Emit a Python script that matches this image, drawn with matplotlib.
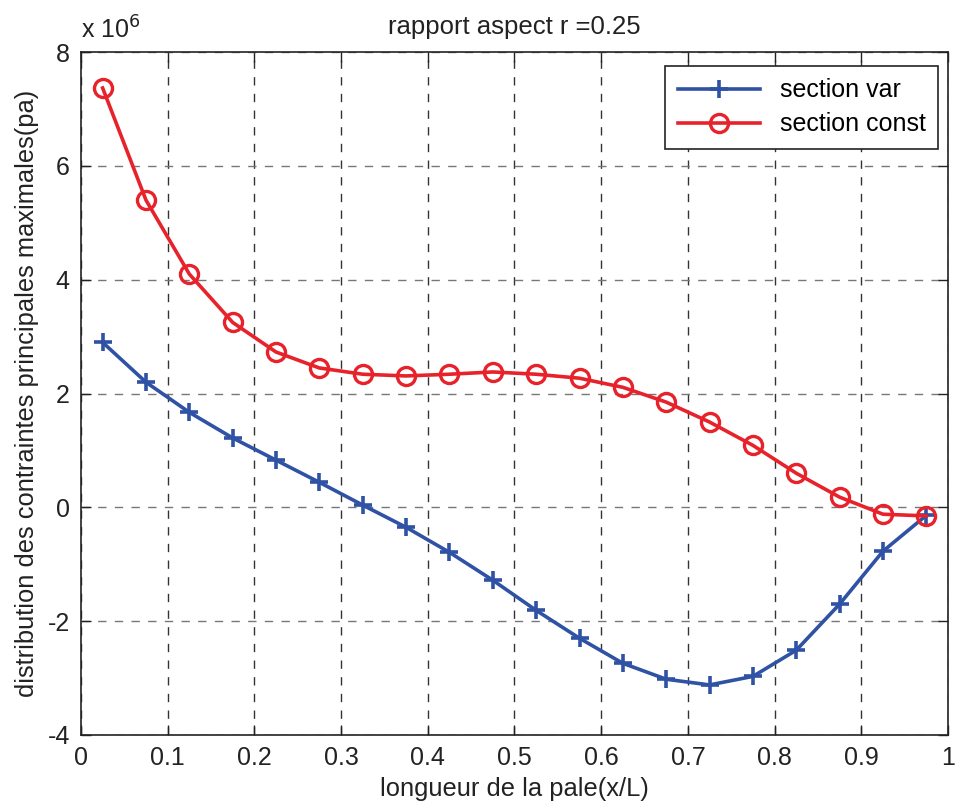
import numpy as np
import matplotlib
matplotlib.use("Agg")
import matplotlib.pyplot as plt

plt.rcParams["font.family"] = ["Liberation Sans", "DejaVu Sans"]

# positions along the blade (x/L)
x = [0.025, 0.075, 0.125, 0.175, 0.225, 0.275, 0.325, 0.375, 0.425, 0.475,
     0.525, 0.575, 0.625, 0.675, 0.725, 0.775, 0.825, 0.875, 0.925, 0.975]

# max principal stress, in units of 1e6 Pa
section_var = [2.90, 2.20, 1.67, 1.22, 0.83, 0.44, 0.04, -0.35, -0.79, -1.28,
               -1.81, -2.30, -2.74, -3.02, -3.12, -2.97, -2.51, -1.70, -0.77, -0.14]
section_const = [7.37, 5.40, 4.10, 3.25, 2.73, 2.45, 2.34, 2.31, 2.34, 2.38,
                 2.34, 2.27, 2.11, 1.85, 1.50, 1.09, 0.60, 0.18, -0.12, -0.15]

xticks = [0, 0.1, 0.2, 0.3, 0.4, 0.5, 0.6, 0.7, 0.8, 0.9, 1]
yticks = [-4, -2, 0, 2, 4, 6, 8]

fig = plt.figure(figsize=(9.57, 8.1), dpi=100)
ax = fig.add_axes([0.0846, 0.0926, 0.906, 0.843])

ax.plot(x, section_var, color="#2f52a4", lw=2.6, marker="+", ms=13, mew=2.6,
        label="section var", zorder=3)
ax.plot(x, section_const, color="#e8222b", lw=2.6, marker="o", ms=13, mew=2.4,
        mfc="none", label="section const", zorder=3)

ax.set_xlim(0, 1)
ax.set_ylim(-4, 8)
ax.set_xticks(xticks)
ax.set_xticklabels([f"{t:g}" for t in xticks])
ax.set_yticks(yticks)
ax.set_yticklabels([f"{t:g}" for t in yticks])
ax.tick_params(direction="in", length=7, width=1, top=True, right=True,
               labelsize=18, colors="#222222", pad=8)

# MATLAB-like dashed grid
ax.xaxis.grid(True, linestyle=(0, (6, 6)), color="#333333", lw=1.0)
ax.yaxis.grid(True, linestyle=(0, (6, 6)), color="#777777", lw=1.0)
ax.set_axisbelow(True)
for s in ax.spines.values():
    s.set_linewidth(1.2)
    s.set_color("#222222")

ax.set_xlabel("longueur de la pale(x/L)", fontsize=18.4, color="#222222", labelpad=5)
ax.set_ylabel("distribution des contraintes principales maximales(pa)", fontsize=18.4,
              color="#222222", labelpad=6)
ax.set_title("rapport aspect r =0.25", fontsize=18.5, color="#222222", pad=13)
ax.text(0, 1.012, "x 10$^{6}$", transform=ax.transAxes, fontsize=18,
        color="#222222", ha="left", va="bottom")

leg = ax.legend(loc="upper right", bbox_to_anchor=(0.989, 0.98), borderaxespad=0,
                fontsize=18, fancybox=False, edgecolor="#222222", framealpha=1,
                handlelength=3.3, borderpad=0.5, labelspacing=0.4)
leg.get_frame().set_linewidth(1.2)

fig.savefig("out.png", dpi=100)
